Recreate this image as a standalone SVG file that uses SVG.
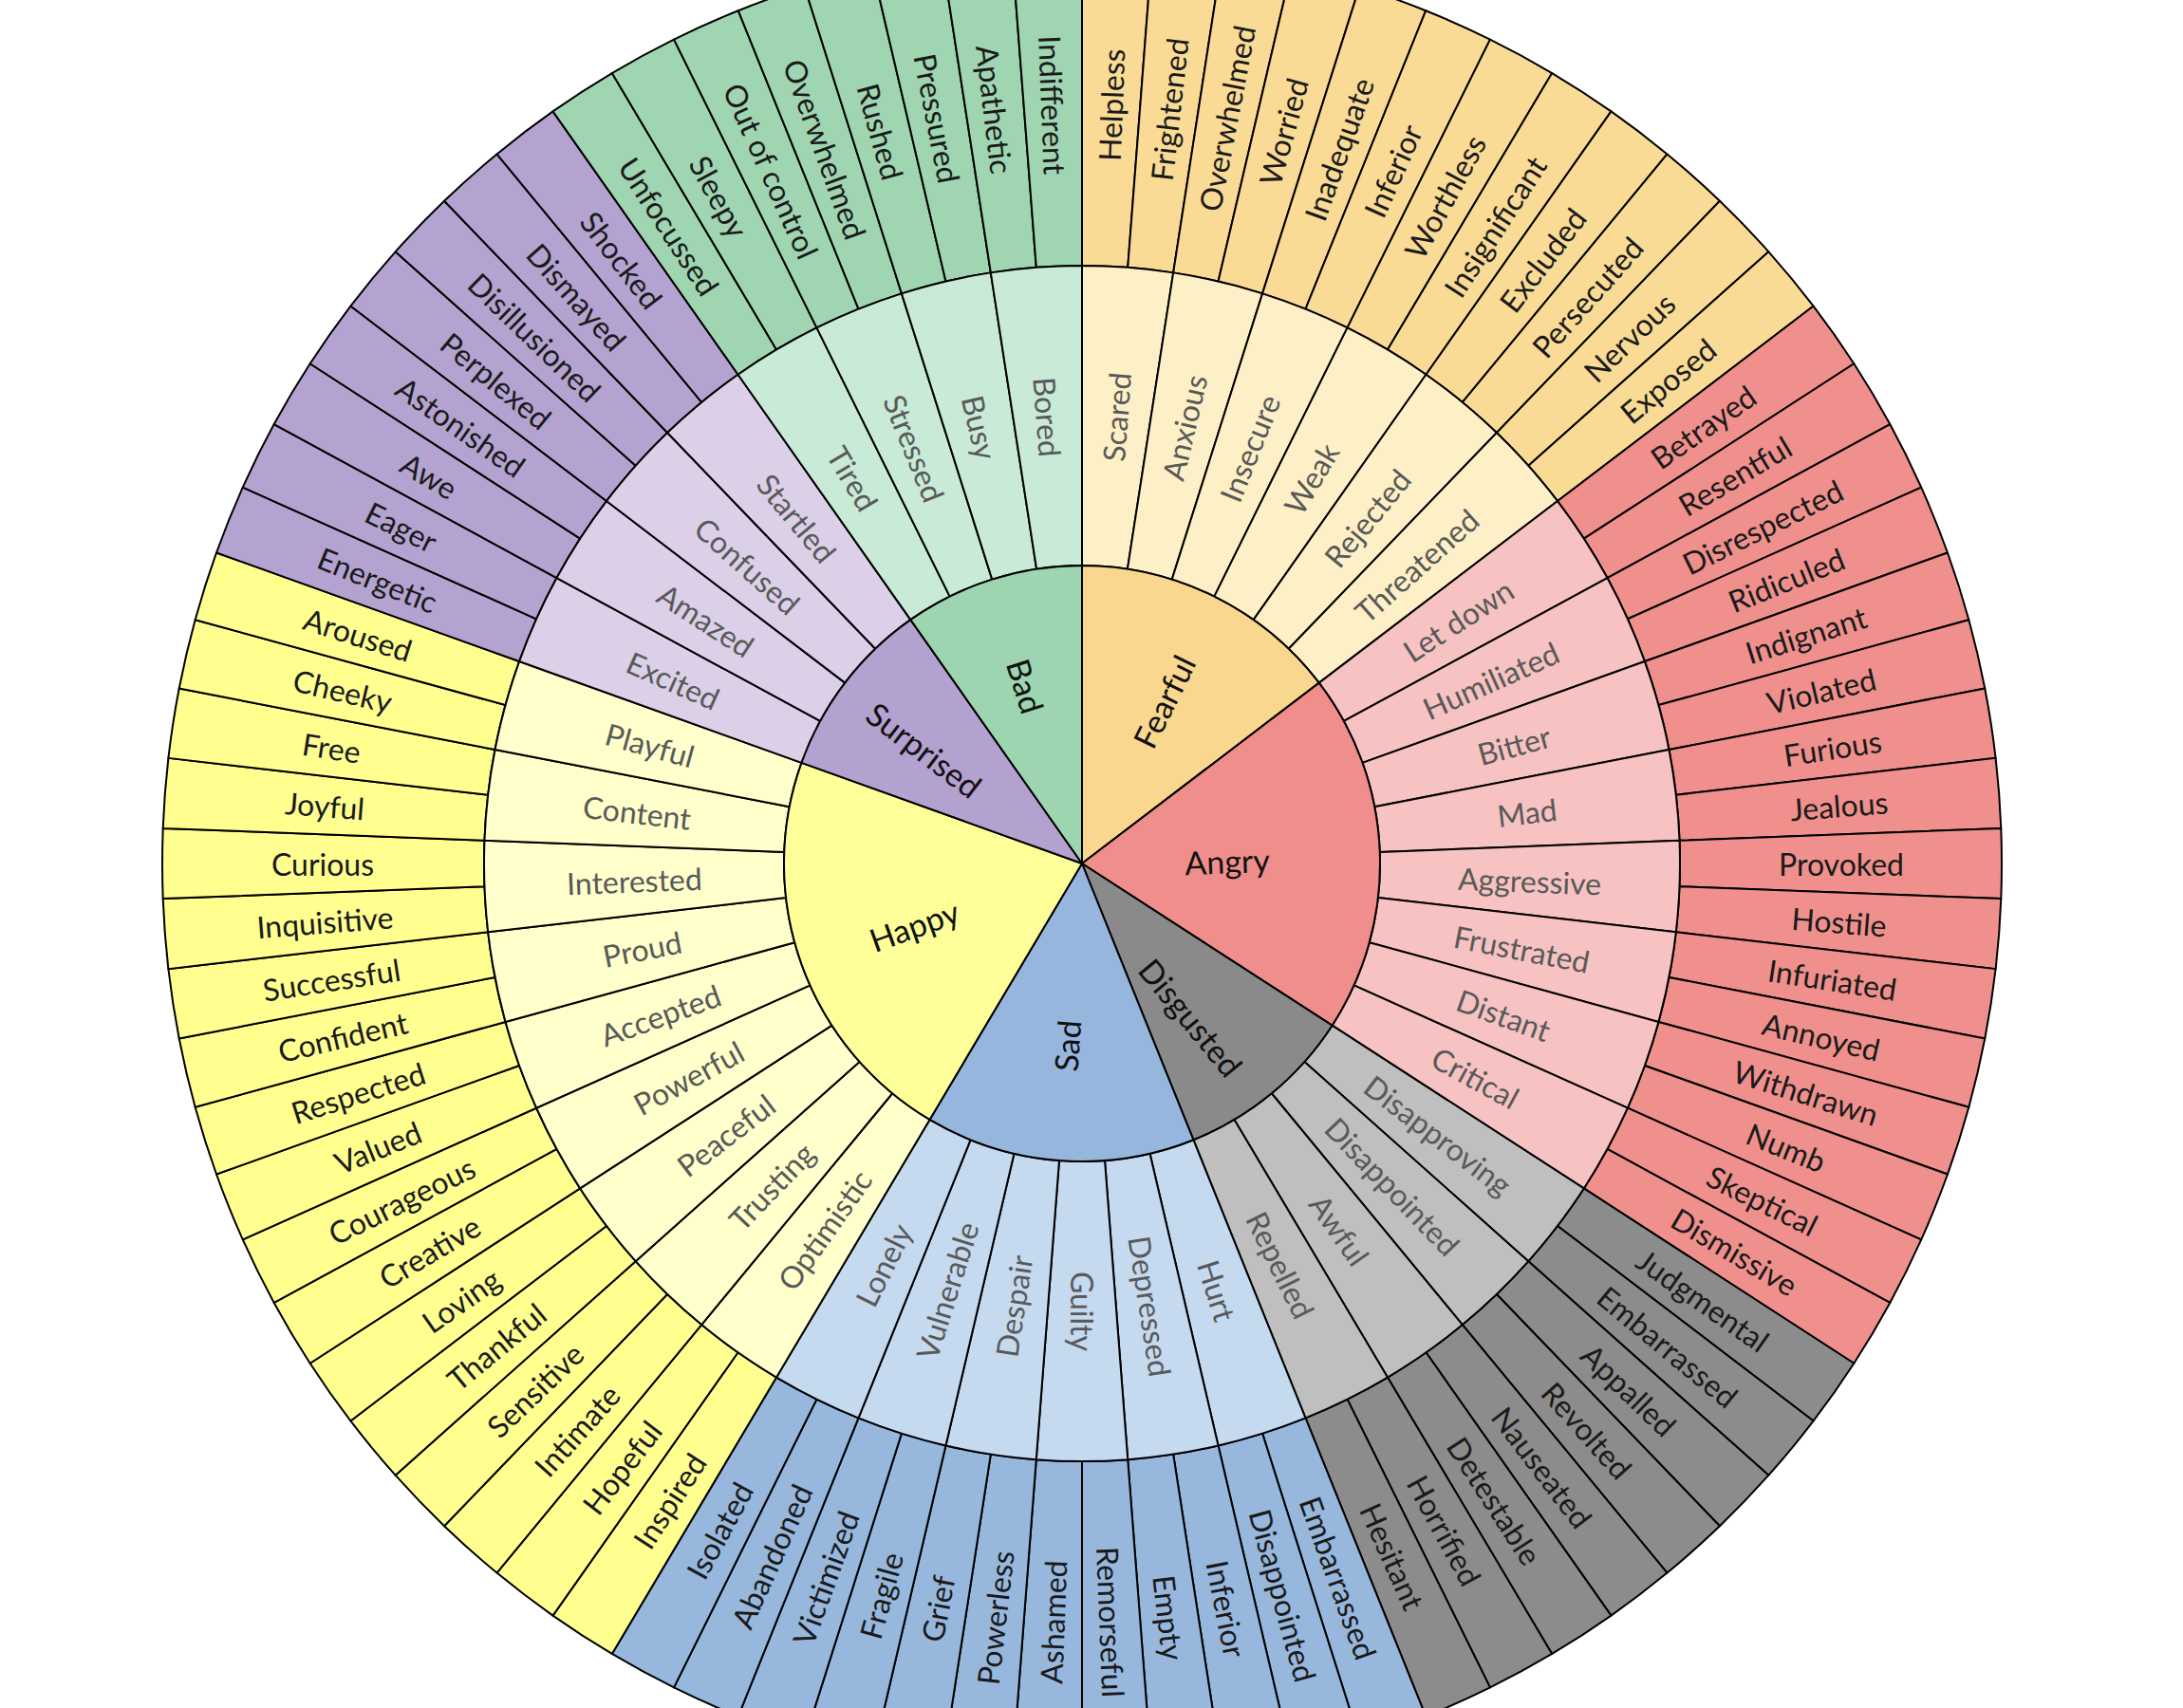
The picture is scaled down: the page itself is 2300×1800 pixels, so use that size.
<svg xmlns="http://www.w3.org/2000/svg" width="2300" height="1800" viewBox="0 0 2300 1800">
<defs>
<path id="o" d="M630,0 L969,0 A969,969 0 0 1 966.157,74.176 L628.151,48.226 A630,630 0 0 0 630,0 Z"/>
<path id="m" d="M314,0 L630,0 A630,630 0 0 1 622.617,96.169 L310.320,47.932 A314,314 0 0 0 314,0 Z"/>
<path id="c4" d="M0,0 L314,0 A314,314 0 0 1 256.830,180.650 Z"/>
<path id="c6" d="M0,0 L314,0 A314,314 0 0 1 190.355,249.722 Z"/>
<path id="c8" d="M0,0 L314,0 A314,314 0 0 1 106.137,295.518 Z"/>
<path id="c9" d="M0,0 L314,0 A314,314 0 0 1 59.783,308.256 Z"/>
</defs>
<style>
use{stroke:#000;stroke-width:2;stroke-linejoin:round}
text{font-family:Lato,"Open Sans","Liberation Sans",sans-serif;text-anchor:middle;dominant-baseline:central}
.ot{font-size:32px;fill:#1a1a1a}
.mt{font-size:32px;fill:#595959}
.ct{font-size:34px;fill:#111}
.fear-c{fill:#F9D78F}.fear-m{fill:#FEF0C6}.fear-o{fill:#F9DB95}
.ang-c{fill:#EF8E8B}.ang-m{fill:#F6C3C2}.ang-o{fill:#EF908D}
.dis-c{fill:#8A8A8A}.dis-m{fill:#BFBFBF}.dis-o{fill:#8C8C8C}
.sad-c{fill:#96B6DD}.sad-m{fill:#C5D9EF}.sad-o{fill:#97B7DD}
.hap-c{fill:#FFFF99}.hap-m{fill:#FFFFCC}.hap-o{fill:#FFFF90}
.sur-c{fill:#B3A1CF}.sur-m{fill:#DBD0E8}.sur-o{fill:#B4A3D0}
.bad-c{fill:#9CD5AF}.bad-m{fill:#C8EAD6}.bad-o{fill:#9FD5B1}
</style>
<rect width="2300" height="1800" fill="#fff"/>
<g id="wheel" transform="translate(1140,910)">
<g id="outer-ring">
<g id="o-helpless" transform="rotate(-90)"><use href="#o" class="fear-o"/><text class="ot" transform="rotate(2.195) translate(800,0)">Helpless</text></g>
<g id="o-frightened" transform="rotate(-85.610)"><use href="#o" class="fear-o"/><text class="ot" transform="rotate(2.195) translate(800,0)">Frightened</text></g>
<g id="o-fear-overwhelmed" transform="rotate(-81.220)"><use href="#o" class="fear-o"/><text class="ot" transform="rotate(2.195) translate(800,0)">Overwhelmed</text></g>
<g id="o-worried" transform="rotate(-76.829)"><use href="#o" class="fear-o"/><text class="ot" transform="rotate(2.195) translate(800,0)">Worried</text></g>
<g id="o-inadequate" transform="rotate(-72.439)"><use href="#o" class="fear-o"/><text class="ot" transform="rotate(2.195) translate(800,0)">Inadequate</text></g>
<g id="o-fear-inferior" transform="rotate(-68.049)"><use href="#o" class="fear-o"/><text class="ot" transform="rotate(2.195) translate(800,0)">Inferior</text></g>
<g id="o-worthless" transform="rotate(-63.659)"><use href="#o" class="fear-o"/><text class="ot" transform="rotate(2.195) translate(800,0)">Worthless</text></g>
<g id="o-insignificant" transform="rotate(-59.268)"><use href="#o" class="fear-o"/><text class="ot" transform="rotate(2.195) translate(800,0)">Insignificant</text></g>
<g id="o-excluded" transform="rotate(-54.878)"><use href="#o" class="fear-o"/><text class="ot" transform="rotate(2.195) translate(800,0)">Excluded</text></g>
<g id="o-persecuted" transform="rotate(-50.488)"><use href="#o" class="fear-o"/><text class="ot" transform="rotate(2.195) translate(800,0)">Persecuted</text></g>
<g id="o-nervous" transform="rotate(-46.098)"><use href="#o" class="fear-o"/><text class="ot" transform="rotate(2.195) translate(800,0)">Nervous</text></g>
<g id="o-exposed" transform="rotate(-41.707)"><use href="#o" class="fear-o"/><text class="ot" transform="rotate(2.195) translate(800,0)">Exposed</text></g>
<g id="o-betrayed" transform="rotate(-37.317)"><use href="#o" class="ang-o"/><text class="ot" transform="rotate(2.195) translate(800,0)">Betrayed</text></g>
<g id="o-resentful" transform="rotate(-32.927)"><use href="#o" class="ang-o"/><text class="ot" transform="rotate(2.195) translate(800,0)">Resentful</text></g>
<g id="o-disrespected" transform="rotate(-28.537)"><use href="#o" class="ang-o"/><text class="ot" transform="rotate(2.195) translate(800,0)">Disrespected</text></g>
<g id="o-ridiculed" transform="rotate(-24.146)"><use href="#o" class="ang-o"/><text class="ot" transform="rotate(2.195) translate(800,0)">Ridiculed</text></g>
<g id="o-indignant" transform="rotate(-19.756)"><use href="#o" class="ang-o"/><text class="ot" transform="rotate(2.195) translate(800,0)">Indignant</text></g>
<g id="o-violated" transform="rotate(-15.366)"><use href="#o" class="ang-o"/><text class="ot" transform="rotate(2.195) translate(800,0)">Violated</text></g>
<g id="o-furious" transform="rotate(-10.976)"><use href="#o" class="ang-o"/><text class="ot" transform="rotate(2.195) translate(800,0)">Furious</text></g>
<g id="o-jealous" transform="rotate(-6.585)"><use href="#o" class="ang-o"/><text class="ot" transform="rotate(2.195) translate(800,0)">Jealous</text></g>
<g id="o-provoked" transform="rotate(-2.195)"><use href="#o" class="ang-o"/><text class="ot" transform="rotate(2.195) translate(800,0)">Provoked</text></g>
<g id="o-hostile" transform="rotate(2.195)"><use href="#o" class="ang-o"/><text class="ot" transform="rotate(2.195) translate(800,0)">Hostile</text></g>
<g id="o-infuriated" transform="rotate(6.585)"><use href="#o" class="ang-o"/><text class="ot" transform="rotate(2.195) translate(800,0)">Infuriated</text></g>
<g id="o-annoyed" transform="rotate(10.976)"><use href="#o" class="ang-o"/><text class="ot" transform="rotate(2.195) translate(800,0)">Annoyed</text></g>
<g id="o-withdrawn" transform="rotate(15.366)"><use href="#o" class="ang-o"/><text class="ot" transform="rotate(2.195) translate(800,0)">Withdrawn</text></g>
<g id="o-numb" transform="rotate(19.756)"><use href="#o" class="ang-o"/><text class="ot" transform="rotate(2.195) translate(800,0)">Numb</text></g>
<g id="o-skeptical" transform="rotate(24.146)"><use href="#o" class="ang-o"/><text class="ot" transform="rotate(2.195) translate(800,0)">Skeptical</text></g>
<g id="o-dismissive" transform="rotate(28.537)"><use href="#o" class="ang-o"/><text class="ot" transform="rotate(2.195) translate(800,0)">Dismissive</text></g>
<g id="o-judgmental" transform="rotate(32.927)"><use href="#o" class="dis-o"/><text class="ot" transform="rotate(2.195) translate(800,0)">Judgmental</text></g>
<g id="o-dis-embarrassed" transform="rotate(37.317)"><use href="#o" class="dis-o"/><text class="ot" transform="rotate(2.195) translate(800,0)">Embarrassed</text></g>
<g id="o-appalled" transform="rotate(41.707)"><use href="#o" class="dis-o"/><text class="ot" transform="rotate(2.195) translate(800,0)">Appalled</text></g>
<g id="o-revolted" transform="rotate(46.098)"><use href="#o" class="dis-o"/><text class="ot" transform="rotate(2.195) translate(800,0)">Revolted</text></g>
<g id="o-nauseated" transform="rotate(50.488)"><use href="#o" class="dis-o"/><text class="ot" transform="rotate(2.195) translate(800,0)">Nauseated</text></g>
<g id="o-detestable" transform="rotate(54.878)"><use href="#o" class="dis-o"/><text class="ot" transform="rotate(2.195) translate(800,0)">Detestable</text></g>
<g id="o-horrified" transform="rotate(59.268)"><use href="#o" class="dis-o"/><text class="ot" transform="rotate(2.195) translate(800,0)">Horrified</text></g>
<g id="o-hesitant" transform="rotate(63.659)"><use href="#o" class="dis-o"/><text class="ot" transform="rotate(2.195) translate(800,0)">Hesitant</text></g>
<g id="o-sad-embarrassed" transform="rotate(68.049)"><use href="#o" class="sad-o"/><text class="ot" transform="rotate(2.195) translate(800,0)">Embarrassed</text></g>
<g id="o-disappointed" transform="rotate(72.439)"><use href="#o" class="sad-o"/><text class="ot" transform="rotate(2.195) translate(800,0)">Disappointed</text></g>
<g id="o-sad-inferior" transform="rotate(76.829)"><use href="#o" class="sad-o"/><text class="ot" transform="rotate(2.195) translate(800,0)">Inferior</text></g>
<g id="o-empty" transform="rotate(81.220)"><use href="#o" class="sad-o"/><text class="ot" transform="rotate(2.195) translate(800,0)">Empty</text></g>
<g id="o-remorseful" transform="rotate(85.610)"><use href="#o" class="sad-o"/><text class="ot" transform="rotate(2.195) translate(800,0)">Remorseful</text></g>
<g id="o-ashamed" transform="rotate(90)"><use href="#o" class="sad-o"/><text class="ot" transform="rotate(2.195) translate(800,0) rotate(180)">Ashamed</text></g>
<g id="o-powerless" transform="rotate(94.390)"><use href="#o" class="sad-o"/><text class="ot" transform="rotate(2.195) translate(800,0) rotate(180)">Powerless</text></g>
<g id="o-grief" transform="rotate(98.780)"><use href="#o" class="sad-o"/><text class="ot" transform="rotate(2.195) translate(800,0) rotate(180)">Grief</text></g>
<g id="o-fragile" transform="rotate(103.171)"><use href="#o" class="sad-o"/><text class="ot" transform="rotate(2.195) translate(800,0) rotate(180)">Fragile</text></g>
<g id="o-victimized" transform="rotate(107.561)"><use href="#o" class="sad-o"/><text class="ot" transform="rotate(2.195) translate(800,0) rotate(180)">Victimized</text></g>
<g id="o-abandoned" transform="rotate(111.951)"><use href="#o" class="sad-o"/><text class="ot" transform="rotate(2.195) translate(800,0) rotate(180)">Abandoned</text></g>
<g id="o-isolated" transform="rotate(116.341)"><use href="#o" class="sad-o"/><text class="ot" transform="rotate(2.195) translate(800,0) rotate(180)">Isolated</text></g>
<g id="o-inspired" transform="rotate(120.732)"><use href="#o" class="hap-o"/><text class="ot" transform="rotate(2.195) translate(800,0) rotate(180)">Inspired</text></g>
<g id="o-hopeful" transform="rotate(125.122)"><use href="#o" class="hap-o"/><text class="ot" transform="rotate(2.195) translate(800,0) rotate(180)">Hopeful</text></g>
<g id="o-intimate" transform="rotate(129.512)"><use href="#o" class="hap-o"/><text class="ot" transform="rotate(2.195) translate(800,0) rotate(180)">Intimate</text></g>
<g id="o-sensitive" transform="rotate(133.902)"><use href="#o" class="hap-o"/><text class="ot" transform="rotate(2.195) translate(800,0) rotate(180)">Sensitive</text></g>
<g id="o-thankful" transform="rotate(138.293)"><use href="#o" class="hap-o"/><text class="ot" transform="rotate(2.195) translate(800,0) rotate(180)">Thankful</text></g>
<g id="o-loving" transform="rotate(142.683)"><use href="#o" class="hap-o"/><text class="ot" transform="rotate(2.195) translate(800,0) rotate(180)">Loving</text></g>
<g id="o-creative" transform="rotate(147.073)"><use href="#o" class="hap-o"/><text class="ot" transform="rotate(2.195) translate(800,0) rotate(180)">Creative</text></g>
<g id="o-courageous" transform="rotate(151.463)"><use href="#o" class="hap-o"/><text class="ot" transform="rotate(2.195) translate(800,0) rotate(180)">Courageous</text></g>
<g id="o-valued" transform="rotate(155.854)"><use href="#o" class="hap-o"/><text class="ot" transform="rotate(2.195) translate(800,0) rotate(180)">Valued</text></g>
<g id="o-respected" transform="rotate(160.244)"><use href="#o" class="hap-o"/><text class="ot" transform="rotate(2.195) translate(800,0) rotate(180)">Respected</text></g>
<g id="o-confident" transform="rotate(164.634)"><use href="#o" class="hap-o"/><text class="ot" transform="rotate(2.195) translate(800,0) rotate(180)">Confident</text></g>
<g id="o-successful" transform="rotate(169.024)"><use href="#o" class="hap-o"/><text class="ot" transform="rotate(2.195) translate(800,0) rotate(180)">Successful</text></g>
<g id="o-inquisitive" transform="rotate(173.415)"><use href="#o" class="hap-o"/><text class="ot" transform="rotate(2.195) translate(800,0) rotate(180)">Inquisitive</text></g>
<g id="o-curious" transform="rotate(177.805)"><use href="#o" class="hap-o"/><text class="ot" transform="rotate(2.195) translate(800,0) rotate(180)">Curious</text></g>
<g id="o-joyful" transform="rotate(182.195)"><use href="#o" class="hap-o"/><text class="ot" transform="rotate(2.195) translate(800,0) rotate(180)">Joyful</text></g>
<g id="o-free" transform="rotate(186.585)"><use href="#o" class="hap-o"/><text class="ot" transform="rotate(2.195) translate(800,0) rotate(180)">Free</text></g>
<g id="o-cheeky" transform="rotate(190.976)"><use href="#o" class="hap-o"/><text class="ot" transform="rotate(2.195) translate(800,0) rotate(180)">Cheeky</text></g>
<g id="o-aroused" transform="rotate(195.366)"><use href="#o" class="hap-o"/><text class="ot" transform="rotate(2.195) translate(800,0) rotate(180)">Aroused</text></g>
<g id="o-energetic" transform="rotate(199.756)"><use href="#o" class="sur-o"/><text class="ot" transform="rotate(2.195) translate(800,0) rotate(180)">Energetic</text></g>
<g id="o-eager" transform="rotate(204.146)"><use href="#o" class="sur-o"/><text class="ot" transform="rotate(2.195) translate(800,0) rotate(180)">Eager</text></g>
<g id="o-awe" transform="rotate(208.537)"><use href="#o" class="sur-o"/><text class="ot" transform="rotate(2.195) translate(800,0) rotate(180)">Awe</text></g>
<g id="o-astonished" transform="rotate(212.927)"><use href="#o" class="sur-o"/><text class="ot" transform="rotate(2.195) translate(800,0) rotate(180)">Astonished</text></g>
<g id="o-perplexed" transform="rotate(217.317)"><use href="#o" class="sur-o"/><text class="ot" transform="rotate(2.195) translate(800,0) rotate(180)">Perplexed</text></g>
<g id="o-disillusioned" transform="rotate(221.707)"><use href="#o" class="sur-o"/><text class="ot" transform="rotate(2.195) translate(800,0) rotate(180)">Disillusioned</text></g>
<g id="o-dismayed" transform="rotate(226.098)"><use href="#o" class="sur-o"/><text class="ot" transform="rotate(2.195) translate(800,0) rotate(180)">Dismayed</text></g>
<g id="o-shocked" transform="rotate(230.488)"><use href="#o" class="sur-o"/><text class="ot" transform="rotate(2.195) translate(800,0) rotate(180)">Shocked</text></g>
<g id="o-unfocussed" transform="rotate(234.878)"><use href="#o" class="bad-o"/><text class="ot" transform="rotate(2.195) translate(800,0) rotate(180)">Unfocussed</text></g>
<g id="o-sleepy" transform="rotate(239.268)"><use href="#o" class="bad-o"/><text class="ot" transform="rotate(2.195) translate(800,0) rotate(180)">Sleepy</text></g>
<g id="o-out-of-control" transform="rotate(243.659)"><use href="#o" class="bad-o"/><text class="ot" transform="rotate(2.195) translate(800,0) rotate(180)">Out of control</text></g>
<g id="o-bad-overwhelmed" transform="rotate(248.049)"><use href="#o" class="bad-o"/><text class="ot" transform="rotate(2.195) translate(800,0) rotate(180)">Overwhelmed</text></g>
<g id="o-rushed" transform="rotate(252.439)"><use href="#o" class="bad-o"/><text class="ot" transform="rotate(2.195) translate(800,0) rotate(180)">Rushed</text></g>
<g id="o-pressured" transform="rotate(256.829)"><use href="#o" class="bad-o"/><text class="ot" transform="rotate(2.195) translate(800,0) rotate(180)">Pressured</text></g>
<g id="o-apathetic" transform="rotate(261.220)"><use href="#o" class="bad-o"/><text class="ot" transform="rotate(2.195) translate(800,0) rotate(180)">Apathetic</text></g>
<g id="o-indifferent" transform="rotate(265.610)"><use href="#o" class="bad-o"/><text class="ot" transform="rotate(2.195) translate(800,0) rotate(180)">Indifferent</text></g>
</g>
<g id="middle-ring">
<g id="m-scared" transform="rotate(-90)"><use href="#m" class="fear-m"/><text class="mt" transform="rotate(4.390) translate(472,0)">Scared</text></g>
<g id="m-anxious" transform="rotate(-81.220)"><use href="#m" class="fear-m"/><text class="mt" transform="rotate(4.390) translate(472,0)">Anxious</text></g>
<g id="m-insecure" transform="rotate(-72.439)"><use href="#m" class="fear-m"/><text class="mt" transform="rotate(4.390) translate(472,0)">Insecure</text></g>
<g id="m-weak" transform="rotate(-63.659)"><use href="#m" class="fear-m"/><text class="mt" transform="rotate(4.390) translate(472,0)">Weak</text></g>
<g id="m-rejected" transform="rotate(-54.878)"><use href="#m" class="fear-m"/><text class="mt" transform="rotate(4.390) translate(472,0)">Rejected</text></g>
<g id="m-threatened" transform="rotate(-46.098)"><use href="#m" class="fear-m"/><text class="mt" transform="rotate(4.390) translate(472,0)">Threatened</text></g>
<g id="m-let-down" transform="rotate(-37.317)"><use href="#m" class="ang-m"/><text class="mt" transform="rotate(4.390) translate(472,0)">Let down</text></g>
<g id="m-humiliated" transform="rotate(-28.537)"><use href="#m" class="ang-m"/><text class="mt" transform="rotate(4.390) translate(472,0)">Humiliated</text></g>
<g id="m-bitter" transform="rotate(-19.756)"><use href="#m" class="ang-m"/><text class="mt" transform="rotate(4.390) translate(472,0)">Bitter</text></g>
<g id="m-mad" transform="rotate(-10.976)"><use href="#m" class="ang-m"/><text class="mt" transform="rotate(4.390) translate(472,0)">Mad</text></g>
<g id="m-aggressive" transform="rotate(-2.195)"><use href="#m" class="ang-m"/><text class="mt" transform="rotate(4.390) translate(472,0)">Aggressive</text></g>
<g id="m-frustrated" transform="rotate(6.585)"><use href="#m" class="ang-m"/><text class="mt" transform="rotate(4.390) translate(472,0)">Frustrated</text></g>
<g id="m-distant" transform="rotate(15.366)"><use href="#m" class="ang-m"/><text class="mt" transform="rotate(4.390) translate(472,0)">Distant</text></g>
<g id="m-critical" transform="rotate(24.146)"><use href="#m" class="ang-m"/><text class="mt" transform="rotate(4.390) translate(472,0)">Critical</text></g>
<g id="m-disapproving" transform="rotate(32.927)"><use href="#m" class="dis-m"/><text class="mt" transform="rotate(4.390) translate(472,0)">Disapproving</text></g>
<g id="m-disappointed" transform="rotate(41.707)"><use href="#m" class="dis-m"/><text class="mt" transform="rotate(4.390) translate(472,0)">Disappointed</text></g>
<g id="m-awful" transform="rotate(50.488)"><use href="#m" class="dis-m"/><text class="mt" transform="rotate(4.390) translate(472,0)">Awful</text></g>
<g id="m-repelled" transform="rotate(59.268)"><use href="#m" class="dis-m"/><text class="mt" transform="rotate(4.390) translate(472,0)">Repelled</text></g>
<g id="m-hurt" transform="rotate(68.049)"><use href="#m" class="sad-m"/><text class="mt" transform="rotate(4.390) translate(472,0)">Hurt</text></g>
<g id="m-depressed" transform="rotate(76.829)"><use href="#m" class="sad-m"/><text class="mt" transform="rotate(4.390) translate(472,0)">Depressed</text></g>
<g id="m-guilty" transform="rotate(85.610)"><use href="#m" class="sad-m"/><text class="mt" transform="rotate(4.390) translate(472,0)">Guilty</text></g>
<g id="m-despair" transform="rotate(94.390)"><use href="#m" class="sad-m"/><text class="mt" transform="rotate(4.390) translate(472,0) rotate(180)">Despair</text></g>
<g id="m-vulnerable" transform="rotate(103.171)"><use href="#m" class="sad-m"/><text class="mt" transform="rotate(4.390) translate(472,0) rotate(180)">Vulnerable</text></g>
<g id="m-lonely" transform="rotate(111.951)"><use href="#m" class="sad-m"/><text class="mt" transform="rotate(4.390) translate(472,0) rotate(180)">Lonely</text></g>
<g id="m-optimistic" transform="rotate(120.732)"><use href="#m" class="hap-m"/><text class="mt" transform="rotate(4.390) translate(472,0) rotate(180)">Optimistic</text></g>
<g id="m-trusting" transform="rotate(129.512)"><use href="#m" class="hap-m"/><text class="mt" transform="rotate(4.390) translate(472,0) rotate(180)">Trusting</text></g>
<g id="m-peaceful" transform="rotate(138.293)"><use href="#m" class="hap-m"/><text class="mt" transform="rotate(4.390) translate(472,0) rotate(180)">Peaceful</text></g>
<g id="m-powerful" transform="rotate(147.073)"><use href="#m" class="hap-m"/><text class="mt" transform="rotate(4.390) translate(472,0) rotate(180)">Powerful</text></g>
<g id="m-accepted" transform="rotate(155.854)"><use href="#m" class="hap-m"/><text class="mt" transform="rotate(4.390) translate(472,0) rotate(180)">Accepted</text></g>
<g id="m-proud" transform="rotate(164.634)"><use href="#m" class="hap-m"/><text class="mt" transform="rotate(4.390) translate(472,0) rotate(180)">Proud</text></g>
<g id="m-interested" transform="rotate(173.415)"><use href="#m" class="hap-m"/><text class="mt" transform="rotate(4.390) translate(472,0) rotate(180)">Interested</text></g>
<g id="m-content" transform="rotate(182.195)"><use href="#m" class="hap-m"/><text class="mt" transform="rotate(4.390) translate(472,0) rotate(180)">Content</text></g>
<g id="m-playful" transform="rotate(190.976)"><use href="#m" class="hap-m"/><text class="mt" transform="rotate(4.390) translate(472,0) rotate(180)">Playful</text></g>
<g id="m-excited" transform="rotate(199.756)"><use href="#m" class="sur-m"/><text class="mt" transform="rotate(4.390) translate(472,0) rotate(180)">Excited</text></g>
<g id="m-amazed" transform="rotate(208.537)"><use href="#m" class="sur-m"/><text class="mt" transform="rotate(4.390) translate(472,0) rotate(180)">Amazed</text></g>
<g id="m-confused" transform="rotate(217.317)"><use href="#m" class="sur-m"/><text class="mt" transform="rotate(4.390) translate(472,0) rotate(180)">Confused</text></g>
<g id="m-startled" transform="rotate(226.098)"><use href="#m" class="sur-m"/><text class="mt" transform="rotate(4.390) translate(472,0) rotate(180)">Startled</text></g>
<g id="m-tired" transform="rotate(234.878)"><use href="#m" class="bad-m"/><text class="mt" transform="rotate(4.390) translate(472,0) rotate(180)">Tired</text></g>
<g id="m-stressed" transform="rotate(243.659)"><use href="#m" class="bad-m"/><text class="mt" transform="rotate(4.390) translate(472,0) rotate(180)">Stressed</text></g>
<g id="m-busy" transform="rotate(252.439)"><use href="#m" class="bad-m"/><text class="mt" transform="rotate(4.390) translate(472,0) rotate(180)">Busy</text></g>
<g id="m-bored" transform="rotate(261.220)"><use href="#m" class="bad-m"/><text class="mt" transform="rotate(4.390) translate(472,0) rotate(180)">Bored</text></g>
</g>
<g id="core">
<g id="c-fearful"><use href="#c6" class="fear-c" transform="rotate(-90)"/><text class="ct" transform="translate(86,-171) rotate(-63.66)">Fearful</text></g>
<g id="c-angry"><use href="#c8" class="ang-c" transform="rotate(-37.317)"/><text class="ct" transform="translate(153,-3) rotate(-2.195)">Angry</text></g>
<g id="c-disgusted"><use href="#c4" class="dis-c" transform="rotate(32.927)"/><text class="ct" transform="translate(115,162) rotate(50.488)">Disgusted</text></g>
<g id="c-sad"><use href="#c6" class="sad-c" transform="rotate(68.049)"/><text class="ct" transform="translate(-16,192) rotate(-85.61)">Sad</text></g>
<g id="c-happy"><use href="#c9" class="hap-c" transform="rotate(120.732)"/><text class="ct" transform="translate(-177,65) rotate(-19.756)">Happy</text></g>
<g id="c-surprised"><use href="#c4" class="sur-c" transform="rotate(199.756)"/><text class="ct" transform="translate(-166,-120) rotate(37.317)">Surprised</text></g>
<g id="c-bad"><use href="#c4" class="bad-c" transform="rotate(234.878)"/><text class="ct" transform="translate(-59,-187) rotate(72.44)">Bad</text></g>
</g>
</g>
</svg>
